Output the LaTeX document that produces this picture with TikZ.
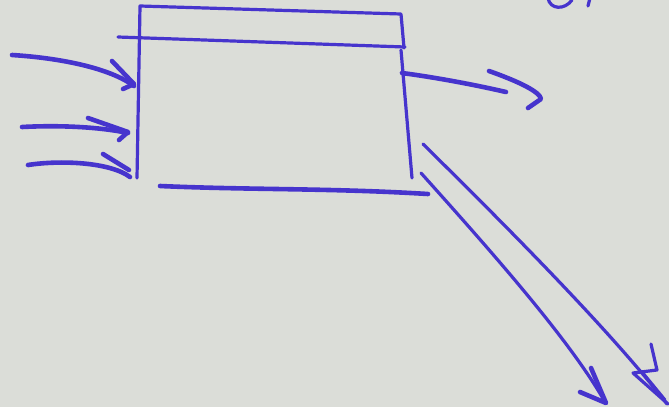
\documentclass[tikz,border=0pt]{standalone}
\definecolor{paper}{RGB}{219,221,216}
\definecolor{ink}{RGB}{70,52,205}
\tikzset{
  pen/.style={draw=ink, line width=4.6pt, line cap=round, line join=round},
  thinpen/.style={draw=ink, line width=3.2pt, line cap=round, line join=round}
}
\begin{document}
\begin{tikzpicture}[x=1pt,y=-1pt]
\fill[paper] (0,0) rectangle (669,407);
\useasboundingbox (0,0) rectangle (669,407);
% box
\draw[thinpen] (137,178) -- (140,6) -- (401,14) -- (404,48);
\draw[thinpen] (118,37) -- (405,47);
\draw[thinpen] (401,50) -- (412,178);
\draw[pen] (160,186) .. controls (250,190) and (330,188) .. (428,194);
% left arrows
\draw[pen] (12,55) .. controls (60,58) and (110,68) .. (134,86);
\draw[pen] (112,61) -- (134,84) -- (123,89);
\draw[pen] (22,127) .. controls (60,125) and (100,127) .. (128,133);
\draw[pen] (88,118) -- (128,132) -- (119,140);
\draw[pen] (28,165) .. controls (60,160) and (110,162) .. (130,177);
\draw[pen] (103,154) -- (129,170);
% right arrow
\draw[pen] (402,73) .. controls (440,78) and (480,86) .. (506,92);
\draw[pen] (489,71) .. controls (520,82) and (540,92) .. (541,99) -- (528,108);
% diagonal arrows
\draw[thinpen] (423,144) .. controls (500,220) and (610,330) .. (667,404);
\draw[thinpen] (651,344) -- (657,370) -- (633,373) -- (668,404);
\draw[thinpen] (642,372) -- (665,400);
\draw[thinpen] (421,173) .. controls (490,250) and (570,340) .. (605,402);
\draw[pen] (591,368) -- (606,403) -- (580,392);
% fragment of handwriting at top
\draw[thinpen] (548,-2) .. controls (550,10) and (565,10) .. (572,0);
\draw[thinpen] (590,-2) -- (588,6);
\end{tikzpicture}
\end{document}
